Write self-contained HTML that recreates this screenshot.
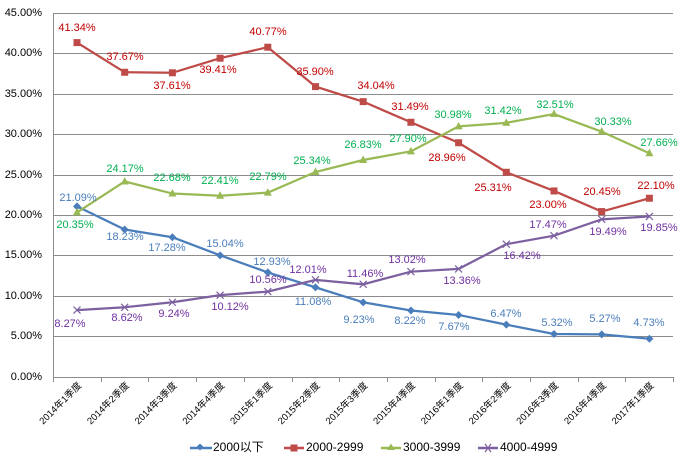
<!DOCTYPE html>
<html><head><meta charset="utf-8"><style>
html,body{margin:0;padding:0;background:#fff;}
svg{display:block;font-family:"Liberation Sans","Noto Sans CJK SC",sans-serif;}
</style></head><body>
<svg width="684" height="463" xmlns="http://www.w3.org/2000/svg">
<rect x="0" y="0" width="684" height="463" fill="#fff"/>
<g stroke="#8c8c8c" stroke-width="1">
<line x1="53" y1="13.5" x2="673" y2="13.5"/>
<line x1="53" y1="53.5" x2="673" y2="53.5"/>
<line x1="53" y1="94.5" x2="673" y2="94.5"/>
<line x1="53" y1="134.5" x2="673" y2="134.5"/>
<line x1="53" y1="175.5" x2="673" y2="175.5"/>
<line x1="53" y1="215.5" x2="673" y2="215.5"/>
<line x1="53" y1="255.5" x2="673" y2="255.5"/>
<line x1="53" y1="296.5" x2="673" y2="296.5"/>
<line x1="53" y1="336.5" x2="673" y2="336.5"/>
<line x1="53" y1="377.5" x2="673" y2="377.5"/>
<line x1="53.5" y1="13" x2="53.5" y2="377"/>
</g>
<g stroke="#8c8c8c" stroke-width="1" id="ticks"></g>
<g font-size="11" fill="#000" text-anchor="end" dominant-baseline="middle">
<text x="42" y="13">45.00%</text><text x="42" y="53">40.00%</text><text x="42" y="94">35.00%</text>
<text x="42" y="134">30.00%</text><text x="42" y="175">25.00%</text><text x="42" y="215">20.00%</text>
<text x="42" y="255">15.00%</text><text x="42" y="296">10.00%</text><text x="42" y="336">5.00%</text>
<text x="42" y="377">0.00%</text>
</g>
<g id="xl" font-size="9.5" fill="#000" text-anchor="end"></g>
<g id="series"></g>
<g font-size="11" text-anchor="middle" dominant-baseline="middle">
<g fill="#c00000">
<text x="77" y="28">41.34%</text><text x="125" y="57">37.67%</text><text x="172" y="86">37.61%</text>
<text x="218" y="70">39.41%</text><text x="268" y="32">40.77%</text><text x="315" y="72">35.90%</text>
<text x="376" y="86">34.04%</text><text x="410" y="107">31.49%</text><text x="447" y="158">28.96%</text>
<text x="493" y="188">25.31%</text><text x="548" y="205">23.00%</text><text x="602" y="192">20.45%</text>
<text x="656" y="186">22.10%</text></g>
<g fill="#00b050">
<text x="75" y="225">20.35%</text><text x="125" y="169">24.17%</text><text x="172" y="178">22.68%</text>
<text x="220" y="181">22.41%</text><text x="268" y="177">22.79%</text><text x="312" y="161">25.34%</text>
<text x="363" y="145">26.83%</text><text x="408" y="139">27.90%</text><text x="453" y="115">30.98%</text>
<text x="503" y="111">31.42%</text><text x="555" y="105">32.51%</text><text x="613" y="122">30.33%</text>
<text x="659" y="143">27.66%</text></g>
<g fill="#4a7ebb">
<text x="78" y="198">21.09%</text><text x="125" y="237">18.23%</text><text x="167" y="248">17.28%</text>
<text x="225" y="244">15.04%</text><text x="272" y="262">12.93%</text><text x="313" y="302">11.08%</text>
<text x="359" y="320">9.23%</text><text x="410" y="321">8.22%</text><text x="454" y="327">7.67%</text>
<text x="506" y="314">6.47%</text><text x="557" y="323">5.32%</text><text x="605" y="319">5.27%</text>
<text x="649" y="323">4.73%</text></g>
<g fill="#7030a0">
<text x="70" y="324">8.27%</text><text x="127" y="318">8.62%</text><text x="174" y="314">9.24%</text>
<text x="230" y="307">10.12%</text><text x="268" y="280">10.56%</text><text x="308" y="270">12.01%</text>
<text x="365" y="274">11.46%</text><text x="407" y="260">13.02%</text><text x="462" y="281">13.36%</text>
<text x="522" y="256">16.42%</text><text x="548" y="225">17.47%</text><text x="608" y="232">19.49%</text>
<text x="659" y="228">19.85%</text></g>
</g>
<g font-size="12" fill="#000" dominant-baseline="middle">
<line x1="190" y1="448" x2="212" y2="448" stroke="#4a7ebb" stroke-width="2.5"/>
<rect x="197.5" y="444.5" width="5" height="5" fill="#4a7ebb" transform="rotate(45 200 447)"/>
<text x="213" y="448">2000以下</text>
<line x1="284" y1="448" x2="304" y2="448" stroke="#be4b48" stroke-width="2.5"/>
<rect x="290.5" y="444.5" width="7" height="7" fill="#be4b48"/>
<text x="306" y="448">2000-2999</text>
<line x1="381" y1="448" x2="401" y2="448" stroke="#98b954" stroke-width="2.5"/>
<polygon points="391,443.5 395,450 387,450" fill="#98b954"/>
<text x="403" y="448">3000-3999</text>
<line x1="478" y1="448" x2="498" y2="448" stroke="#7d60a0" stroke-width="2.5"/>
<path d="M485 444 L491 452 M491 444 L485 452" stroke="#7d60a0" stroke-width="1.2"/>
<text x="500" y="448">4000-4999</text>
</g>
<script>
(function(){
var ns="http://www.w3.org/2000/svg";
var X=function(i){return 77+47.7*i;};
var Y=function(v){return 377-v*8.089;};
var t=document.getElementById('ticks');
for(var i=0;i<=13;i++){var l=document.createElementNS(ns,'line');var x=Math.round(53+47.7*i)+0.5;
l.setAttribute('x1',x);l.setAttribute('x2',x);l.setAttribute('y1',377);l.setAttribute('y2',382);t.appendChild(l);}
var labs=["2014年1季度","2014年2季度","2014年3季度","2014年4季度","2015年1季度","2015年2季度","2015年3季度","2015年4季度","2016年1季度","2016年2季度","2016年3季度","2016年4季度","2017年1季度"];
var xl=document.getElementById('xl');
labs.forEach(function(s,i){var e=document.createElementNS(ns,'text');var x=X(i)+5,y=386;
e.setAttribute('x',x);e.setAttribute('y',y);e.setAttribute('transform','rotate(-45 '+x+' '+y+')');e.textContent=s;xl.appendChild(e);});
var S=[
{c:"#4a7ebb",m:"d",d:[21.09,18.23,17.28,15.04,12.93,11.08,9.23,8.22,7.67,6.47,5.32,5.27,4.73]},
{c:"#be4b48",m:"s",d:[41.34,37.67,37.61,39.41,40.77,35.90,34.04,31.49,28.96,25.31,23.00,20.45,22.10]},
{c:"#98b954",m:"t",d:[20.35,24.17,22.68,22.41,22.79,25.34,26.83,27.90,30.98,31.42,32.51,30.33,27.66]},
{c:"#7d60a0",m:"x",d:[8.27,8.62,9.24,10.12,10.56,12.01,11.46,13.02,13.36,16.42,17.47,19.49,19.85]}];
var g=document.getElementById('series');
S.forEach(function(s){
var p=document.createElementNS(ns,'polyline');
p.setAttribute('points',s.d.map(function(v,i){return X(i)+','+Y(v);}).join(' '));
p.setAttribute('fill','none');p.setAttribute('stroke',s.c);p.setAttribute('stroke-width','2.25');g.appendChild(p);
s.d.forEach(function(v,i){var x=X(i),y=Y(v),e;
if(s.m=='d'){e=document.createElementNS(ns,'polygon');e.setAttribute('points',x+','+(y-4)+' '+(x+4)+','+y+' '+x+','+(y+4)+' '+(x-4)+','+y);e.setAttribute('fill',s.c);}
else if(s.m=='s'){e=document.createElementNS(ns,'rect');e.setAttribute('x',x-3.5);e.setAttribute('y',y-3.5);e.setAttribute('width',7);e.setAttribute('height',7);e.setAttribute('fill',s.c);}
else if(s.m=='t'){e=document.createElementNS(ns,'polygon');e.setAttribute('points',x+','+(y-4.5)+' '+(x+4)+','+(y+3)+' '+(x-4)+','+(y+3));e.setAttribute('fill',s.c);}
else{e=document.createElementNS(ns,'path');e.setAttribute('d','M'+(x-3.5)+' '+(y-3.5)+'L'+(x+3.5)+' '+(y+3.5)+'M'+(x+3.5)+' '+(y-3.5)+'L'+(x-3.5)+' '+(y+3.5));e.setAttribute('stroke',s.c);e.setAttribute('stroke-width','1.2');}
g.appendChild(e);});
});
})();
</script>
</svg>
</body></html>
